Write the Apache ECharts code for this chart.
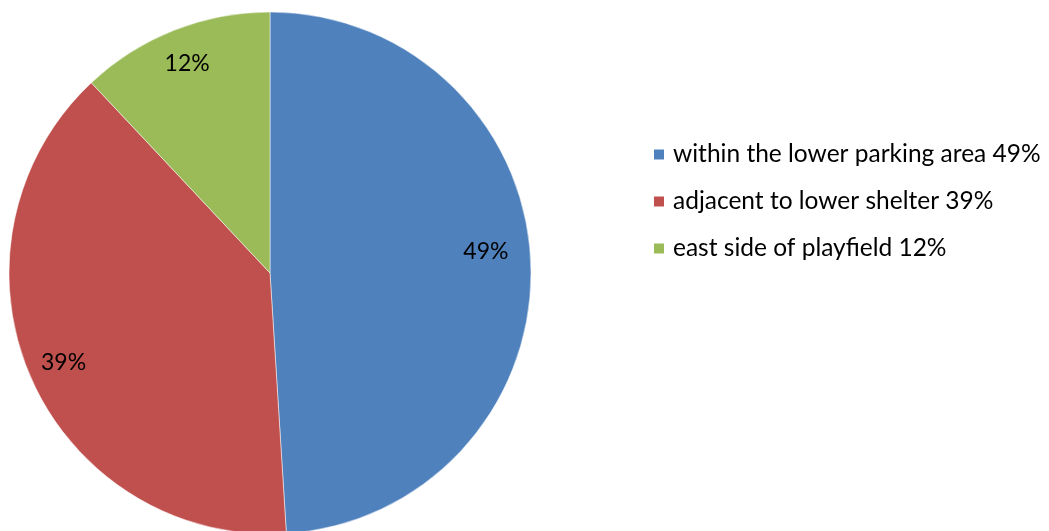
<!DOCTYPE html>
<html><head><meta charset="utf-8">
<script src="https://cdn.jsdelivr.net/npm/echarts@6/dist/echarts.min.js"></script>
<style>html,body{margin:0;padding:0;background:#fff}#c{width:1049px;height:531px}</style>
</head><body><div id="c"></div>
<script>
var categories = ['within the lower parking area 49%', 'adjacent to lower shelter 39%', 'east side of playfield 12%'];
var values = [49, 39, 12];
var labels = ['49%', '39%', '12%'];
var colors = ['#4F81BD', '#C0504D', '#9BBB59'];

var chart = echarts.init(document.getElementById('c'));
var font = 'Lato, "Open Sans", sans-serif';
var data = categories.map(function (n, i) { return { name: n, value: values[i], itemStyle: { color: colors[i] } }; });
var labelData = categories.map(function (n, i) {
  var d = { name: n, value: values[i], label: { formatter: labels[i] } };
  if (i === 0) d.label.offset = [-9, -14];
  return d;
});
chart.setOption({
  animation: false,
  legend: {
    orient: 'vertical', left: 647, top: 137,
    itemWidth: 12, itemHeight: 12, itemGap: 22,
    icon: 'rect',
    textStyle: { fontFamily: font, fontSize: 24.5, lineHeight: 25, color: '#000', padding: [0, 0, 0, 3] },
    data: categories
  },
  series: [{
    type: 'pie', center: [270, 273], radius: [0, 261], startAngle: 90, clockwise: true,
    label: { show: false }, labelLine: { show: false },
    itemStyle: { borderColor: '#fff', borderWidth: 0.5 },
    data: data, silent: true
  }, {
    type: 'pie', center: [270, 273], radius: [183, 261], startAngle: 90, clockwise: true,
    itemStyle: { color: 'transparent' },
    label: { show: true, position: 'inside', fontFamily: font, fontSize: 23, color: '#000' },
    labelLine: { show: false },
    data: labelData, silent: true, legendHoverLink: false
  }]
});
</script></body></html>
